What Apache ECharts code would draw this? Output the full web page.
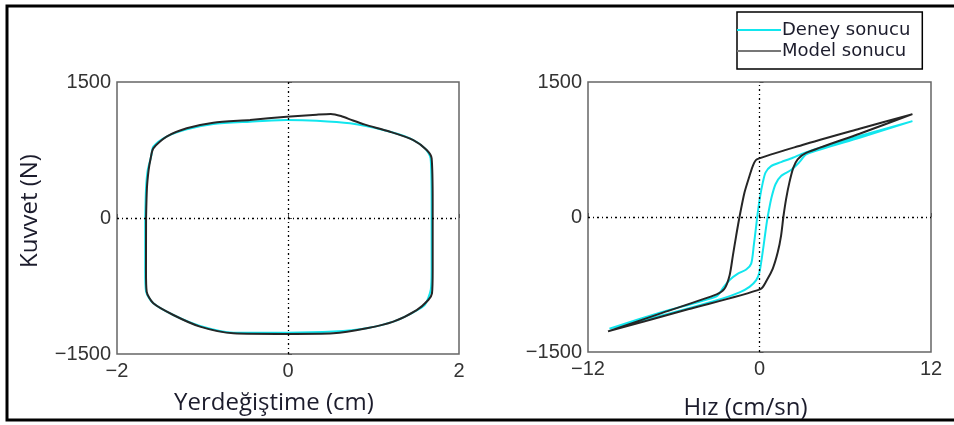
<!DOCTYPE html>
<html>
<head>
<meta charset="utf-8">
<script src="https://cdn.jsdelivr.net/npm/echarts@6/dist/echarts.min.js"></script>
<style>
  html, body { margin: 0; padding: 0; background: #fff; }
  #chart { width: 954px; height: 425px; }
</style>
</head>
<body>
<div id="chart"></div>
<script>
// Yerdeğiştime (cm) - Kuvvet (N): model
var modelYerX = [-1.66, -1.65, -1.63, -1.61, -1.575, -1.42, -1.185, -0.873, -0.444, -0.016, 0.335, 0.5, 0.62, 0.76, 0.9, 1.193, 1.466, 1.622, 1.68, 1.692, 1.692, 1.684, 1.641, 1.505, 1.232, 0.92, 0.53, -0.016, -0.639, -1.029, -1.341, -1.575, -1.653, -1.661, -1.66];
var modelYerY = [0, 330, 530, 640, 768, 897, 989, 1051, 1081, 1117, 1140, 1148, 1125, 1075, 1030, 952, 860, 750, 658, 160, -573, -831, -904, -1015, -1143, -1217, -1272, -1279, -1272, -1198, -1070, -941, -812, -573, 0];
// Yerdeğiştime (cm) - Kuvvet (N): deney
var deneyYerX = [-1.67, -1.66, -1.64, -1.6, -1.575, -1.42, -1.185, -0.873, -0.444, -0.016, 0.335, 0.725, 1.115, 1.427, 1.602, 1.668, 1.68, 1.68, 1.67, 1.6, 1.466, 1.232, 0.92, 0.53, -0.016, -0.639, -1.029, -1.341, -1.575, -1.66, -1.67, -1.67];
var deneyYerY = [0, 330, 530, 680, 786, 897, 978, 1037, 1062, 1081, 1073, 1044, 971, 879, 768, 658, 160, -573, -790, -959, -1040, -1143, -1217, -1253, -1265, -1265, -1191, -1070, -941, -812, -573, 0];
// Hız (cm/sn) - Kuvvet (N): model
var modelHizX = [-10.6, -6.8, -3.0, -2.44, -2.09, -1.86, -1.63, -1.4, -1.05, -0.7, -0.47, -0.19, 3.0, 7.0, 10.7, 7.0, 3.26, 2.67, 2.37, 2.09, 1.86, 1.67, 1.51, 1.28, 0.93, 0.51, 0.07, -5.0, -10.6];
var modelHizY = [-1271, -1065, -860, -794, -647, -426, -206, 0, 272, 456, 566, 640, 800, 980, 1143, 925, 713, 640, 548, 382, 199, 0, -206, -390, -573, -702, -801, -1025, -1271];
// Hız (cm/sn) - Kuvvet (N): deney
var deneyHizX = [-10.5, -6.8, -3.0, -2.56, -2.09, -1.51, -0.93, -0.58, -0.4, -0.23, -0.12, 0.05, 0.23, 0.42, 0.81, 1.51, 2.33, 3.14, 7.0, 10.7, 7.0, 3.3, 2.79, 2.21, 1.51, 1.12, 0.84, 0.65, 0.51, 0.35, 0.19, 0.0, -0.23, -0.7, -1.4, -2.56, -6.5, -10.5];
var deneyHizY = [-1240, -1055, -880, -790, -700, -630, -584, -518, -316, -96, 51, 235, 382, 493, 566, 610, 658, 713, 900, 1065, 880, 700, 610, 522, 456, 364, 217, 70, -59, -243, -426, -610, -702, -776, -838, -904, -1080, -1240];

var yTicks = [-1500, 0, 1500];
var yerTicks = [-2, 0, 2];
var hizTicks = [-12, 0, 12];

var CYAN = '#12e6ee', BLACK = '#262626';

var pairs = function (xs, ys) {
    var out = [];
    for (var i = 0; i < xs.length; i++) out.push([xs[i], ys[i]]);
    return out;
};
var minus = function (v) { return String(v).replace('-', '\u2212'); };

var xAxisBase = function (ticks, idx, name, gap) {
    return {
        type: 'value', gridIndex: idx,
        min: ticks[0], max: ticks[2], interval: ticks[2],
        name: name, nameLocation: 'middle', nameGap: gap,
        nameTextStyle: { fontFamily: 'Open Sans', fontSize: 24, color: '#1c1c2c', padding: [0, 28, 0, 0] },
        axisLine: { show: false },
        axisTick: { inside: true, length: 4, lineStyle: { color: '#555' } },
        splitLine: { show: false },
        axisLabel: {
            formatter: minus, margin: 7,
            fontFamily: 'Liberation Sans', fontSize: 20, color: '#333'
        }
    };
};
var yAxisBase = function (idx, name) {
    return {
        type: 'value', gridIndex: idx,
        min: yTicks[0], max: yTicks[2], interval: yTicks[2],
        name: name, nameLocation: 'middle', nameGap: 75, nameRotate: 90,
        nameTextStyle: { fontFamily: 'Open Sans', fontSize: 24, color: '#1c1c2c', padding: [0, 0, 0, 14] },
        axisLine: { show: false },
        axisTick: { inside: true, length: 4, lineStyle: { color: '#555' } },
        splitLine: { show: false },
        axisLabel: {
            formatter: minus, margin: 6,
            fontFamily: 'Liberation Sans', fontSize: 20, color: '#333'
        }
    };
};

var zeroLines = {
    silent: true, symbol: 'none', label: { show: false },
    lineStyle: { color: '#000', width: 1.3, type: [2, 3, 1, 3] },
    data: [{ xAxis: 0 }, { yAxis: 0 }]
};

var lineSeries = function (name, idx, data, color, extra) {
    var s = {
        name: name, type: 'line', xAxisIndex: idx, yAxisIndex: idx,
        data: data, showSymbol: false, smooth: 0.25,
        lineStyle: { color: color, width: 2 }, itemStyle: { color: color },
        z: name === 'Model sonucu' ? 3 : 2
    };
    if (extra) s.markLine = extra;
    return s;
};

var chart = echarts.init(document.getElementById('chart'));
chart.setOption({
    backgroundColor: '#fff',
    animation: false,
    grid: [
        { left: 117, top: 82, width: 342, height: 272, show: true, borderColor: '#666', borderWidth: 1.5 },
        { left: 588, top: 82, width: 343, height: 272, show: true, borderColor: '#666', borderWidth: 1.5 }
    ],
    xAxis: [
        xAxisBase(yerTicks, 0, 'Yerdeğiştime (cm)', 37),
        xAxisBase(hizTicks, 1, 'Hız (cm/sn)', 44)
    ],
    yAxis: [yAxisBase(0, 'Kuvvet (N)'), yAxisBase(1, '')],
    legend: {
        left: 737, top: 12, orient: 'vertical',
        padding: [9, 12, 9, 0], itemGap: 3,
        itemWidth: 44, itemHeight: 2, icon: 'rect',
        borderColor: '#000', borderWidth: 1.5,
        textStyle: { fontFamily: 'DejaVu Sans', fontSize: 18, color: '#1c1c2c', padding: [0, 0, 0, -4] },
        data: [
            { name: 'Deney sonucu', itemStyle: { color: CYAN } },
            { name: 'Model sonucu', itemStyle: { color: '#777' } }
        ]
    },
    graphic: [{
        type: 'rect', silent: true,
        shape: { x: 7, y: 6, width: 1000, height: 414 },
        style: { fill: 'none', stroke: '#000', lineWidth: 3 }
    }],
    series: [
        lineSeries('Deney sonucu', 0, pairs(deneyYerX, deneyYerY), CYAN, zeroLines),
        lineSeries('Model sonucu', 0, pairs(modelYerX, modelYerY), BLACK),
        lineSeries('Deney sonucu', 1, pairs(deneyHizX, deneyHizY), CYAN, zeroLines),
        lineSeries('Model sonucu', 1, pairs(modelHizX, modelHizY), BLACK)
    ]
});
</script>
</body>
</html>
